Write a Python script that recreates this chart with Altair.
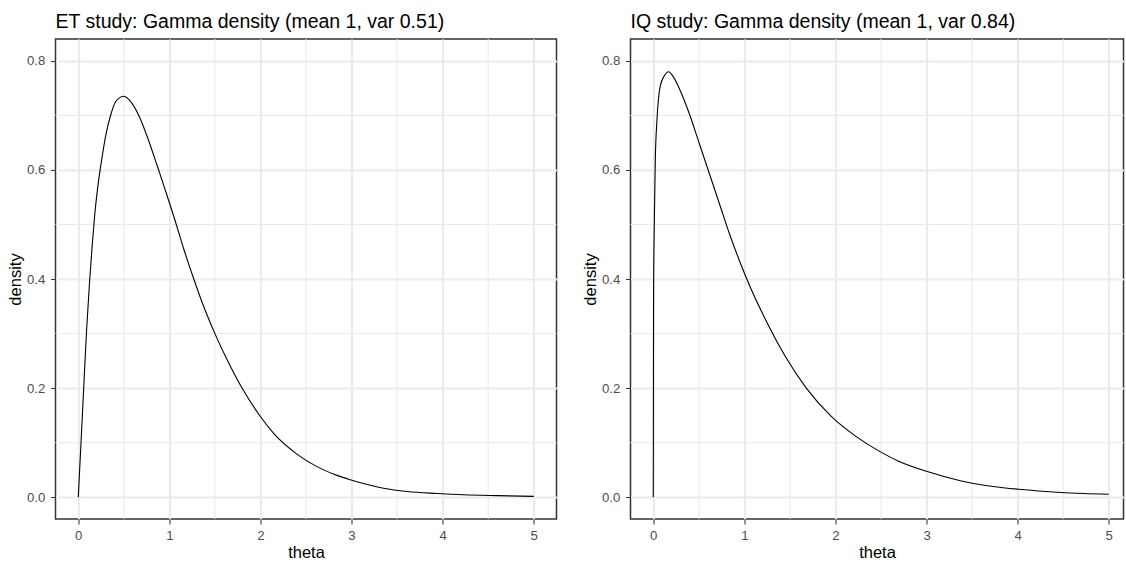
import altair as alt
import pandas as pd

# ---- values ----
theta_et = [0, 0.033, 0.061, 0.091, 0.124, 0.153, 0.182, 0.226, 0.263, 0.30, 0.36, 0.41,
            0.50, 0.59, 0.683, 0.774, 0.866, 0.957, 1.048, 1.158, 1.268, 1.36, 1.414, 1.505,
            1.634, 1.798, 1.999, 2.145, 2.40, 2.62, 2.84, 2.986, 3.13, 3.35, 3.61, 3.94,
            4.23, 4.6, 5.0]
dens_et = [0, 0.110, 0.205, 0.305, 0.395, 0.462, 0.520, 0.584, 0.625, 0.662, 0.703, 0.725,
           0.735, 0.722, 0.693, 0.653, 0.608, 0.562, 0.515, 0.455, 0.400, 0.357, 0.334, 0.298,
           0.252, 0.200, 0.148, 0.117, 0.079, 0.056, 0.040, 0.032, 0.025, 0.0165, 0.0105, 0.0068,
           0.0044, 0.0028, 0.0015]

theta_iq = [0, 0.003, 0.011, 0.022, 0.04, 0.077, 0.12, 0.168, 0.215, 0.289, 0.398, 0.508,
            0.618, 0.728, 0.838, 0.947, 1.057, 1.258, 1.46, 1.68, 1.954, 2.228, 2.484, 2.70,
            3.008, 3.36, 3.73, 4.01, 4.31, 4.72, 5.0]
dens_iq = [0, 0.37, 0.50, 0.616, 0.690, 0.754, 0.772, 0.780, 0.772, 0.748, 0.702, 0.647,
           0.592, 0.537, 0.482, 0.433, 0.388, 0.317, 0.255, 0.200, 0.148, 0.111, 0.084, 0.0655,
           0.047, 0.0307, 0.0196, 0.0145, 0.0105, 0.0068, 0.0055]

x_major = [0, 1, 2, 3, 4, 5]
x_minor = [0.5, 1.5, 2.5, 3.5, 4.5]
y_major = [0.0, 0.2, 0.4, 0.6, 0.8]
y_minor = [0.1, 0.3, 0.5, 0.7]

title_et = "ET study: Gamma density (mean 1, var 0.51)"
title_iq = "IQ study: Gamma density (mean 1, var 0.84)"

FONT = "Liberation Sans"
GRID = "#EBEBEB"
Y_DOMAIN = [-0.04, 0.84]


def panel(theta, dens, title, x_domain, width):
    xs = alt.Scale(domain=x_domain, nice=False, zero=False)
    ys = alt.Scale(domain=Y_DOMAIN, nice=False, zero=False)
    ax_x = alt.Axis(values=x_major, title="theta", format="d")
    ax_y = alt.Axis(values=y_major, title="density", format=".1f")

    vmin = alt.Chart(pd.DataFrame({"theta": x_minor})).mark_rule(
        color=GRID, strokeWidth=1.05
    ).encode(x=alt.X("theta:Q", scale=xs, axis=ax_x))
    hmin = alt.Chart(pd.DataFrame({"density": y_minor})).mark_rule(
        color=GRID, strokeWidth=1.05
    ).encode(y=alt.Y("density:Q", scale=ys, axis=ax_y))
    line = alt.Chart(pd.DataFrame({"theta": theta, "density": dens})).mark_line(
        color="black", strokeWidth=1.1, interpolate="monotone"
    ).encode(
        x=alt.X("theta:Q", scale=xs, axis=ax_x),
        y=alt.Y("density:Q", scale=ys, axis=ax_y),
        order="theta:Q",
    )
    return alt.layer(vmin, hmin, line).properties(
        width=width,
        height=480,
        title=alt.TitleParams(
            text=title, anchor="start", frame="group", font=FONT, fontSize=19.5,
            fontWeight="normal", color="black", offset=-9, baseline="alphabetic",
        ),
    )


chart = alt.hconcat(
    panel(theta_et, dens_et, title_et, [-0.25, 5.25], 501),
    # the right panel runs off the picture's edge in the reference
    panel(theta_iq, dens_iq, title_iq, [-0.25, 5.162], 493),
    spacing=23,
).properties(
    padding={"left": 6.5, "top": 11, "right": 0, "bottom": 0},
    background="white",
).configure_view(
    stroke="#333333", strokeWidth=1.5, fill="white"
).configure_axis(
    domain=False,
    grid=True,
    gridColor=GRID,
    gridWidth=2.1,
    ticks=True,
    tickColor="#333333",
    tickWidth=1.05,
    tickSize=5,
    labelFont=FONT,
    labelFontSize=13.2,
    labelColor="#4D4D4D",
    labelPadding=5.7,
    titleFont=FONT,
    titleFontSize=16.5,
    titleFontWeight="normal",
    titleColor="black",
    titlePadding=3,
).configure_axisX(
    labelPadding=5.5,
    titlePadding=3,
)

chart.save("out.html", embed_options={"renderer": "svg", "actions": False})
